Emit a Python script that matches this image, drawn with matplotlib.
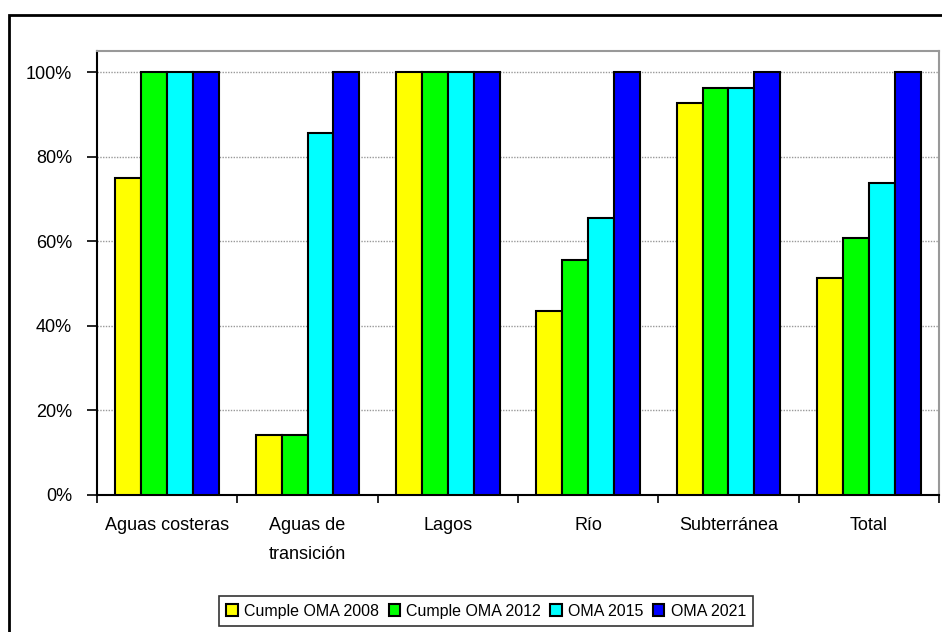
import matplotlib.pyplot as plt
import matplotlib.patches as mpatches
import numpy as np

plt.rcParams['font.family'] = ['Liberation Sans', 'DejaVu Sans']

categorias = ['Aguas costeras', 'Aguas de\ntransición', 'Lagos', 'Río', 'Subterránea', 'Total']
series = ['Cumple OMA 2008', 'Cumple OMA 2012', 'OMA 2015', 'OMA 2021']
oma_2008 = [75.0, 14.3, 100.0, 43.5, 92.6, 51.2]
oma_2012 = [100.0, 14.3, 100.0, 55.6, 96.3, 60.8]
oma_2015 = [100.0, 85.7, 100.0, 65.5, 96.3, 73.9]
oma_2021 = [100.0, 100.0, 100.0, 100.0, 100.0, 100.0]
colores = ['#FFFF00', '#00FF00', '#00FFFF', '#0000FF']
yticks = [0, 20, 40, 60, 80, 100]

fig = plt.figure(figsize=(9.42, 6.32), dpi=100)
ax = fig.add_axes([0.103, 0.2168, 0.8938, 0.7025])

# marco exterior del grafico
fig.patches.append(mpatches.Rectangle((0.0096, -0.05), 1.2, 1.026, transform=fig.transFigure,
                                      fill=False, edgecolor='black', linewidth=2))

x = np.arange(len(categorias))
w = 0.185
for i, (vals, c) in enumerate(zip([oma_2008, oma_2012, oma_2015, oma_2021], colores)):
    ax.bar(x + (i - 1.5) * w, vals, w, color=c, edgecolor='black', linewidth=1.5,
           label=series[i], zorder=3)

ax.set_xlim(-0.5, len(categorias) - 0.5)
ax.set_ylim(0, 105)
ax.set_yticks(yticks)
ax.set_yticklabels([f'{v}%' for v in yticks])
ax.yaxis.grid(True, color='#999999', linestyle=(0, (1, 1)), linewidth=1, zorder=0)

ax.set_xticks(np.arange(-0.5, len(categorias)), minor=False)
ax.set_xticklabels([])
ax.set_xticks(x, minor=True)
ax.set_xticklabels(categorias, minor=True, linespacing=1.9)
ax.tick_params(axis='x', which='major', direction='out', length=6, width=1.2)
ax.tick_params(axis='x', which='minor', length=0, pad=16, labelsize=13)
ax.tick_params(axis='y', direction='out', length=7, width=1.2, pad=11, labelsize=13)

for s in ['left', 'bottom']:
    ax.spines[s].set_color('black')
    ax.spines[s].set_linewidth(1.5)
for s in ['top', 'right']:
    ax.spines[s].set_color('#999999')
    ax.spines[s].set_linewidth(1.5)

leg = fig.legend(loc='center', bbox_to_anchor=(0.516, 0.033), ncol=4, fontsize=11.5,
                 frameon=True, fancybox=False, edgecolor='black', handlelength=0.7,
                 handleheight=0.7, handletextpad=0.4, columnspacing=0.6,
                 borderpad=0.45, borderaxespad=0)
leg.get_frame().set_linewidth(1.2)

fig.savefig('out.png', dpi=100)
